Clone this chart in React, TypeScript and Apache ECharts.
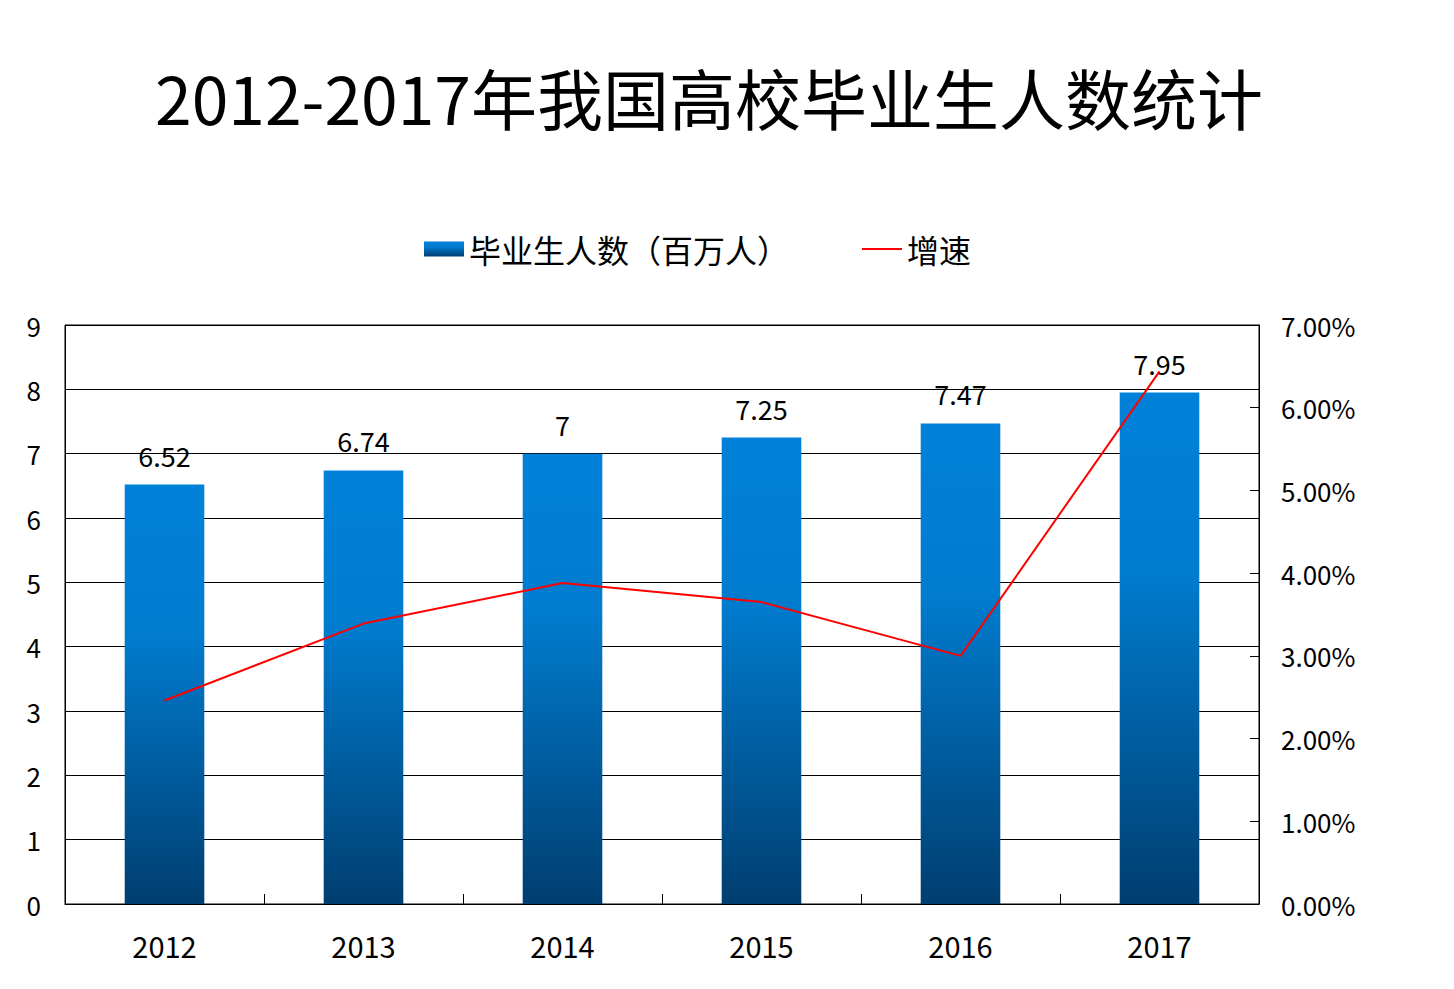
import React, { useEffect, useRef } from "react";
import * as echarts from "echarts";

const years = ["2012", "2013", "2014", "2015", "2016", "2017"];
const graduates = [6.52, 6.74, 7, 7.25, 7.47, 7.95];
const growth = [2.46, 3.39, 3.88, 3.65, 3.0, 6.44];

const FONT = '"Noto Sans CJK SC", "DejaVu Sans", sans-serif';

export default function App() {
  const ref = useRef<HTMLDivElement>(null);
  useEffect(() => {
    const chart = echarts.init(ref.current!, null, { renderer: "svg" });
    chart.setOption({
      animation: false,
      backgroundColor: "#fff",
      textStyle: { fontFamily: FONT, color: "#000" },
      title: {
        text: "2012-2017年我国高校毕业生人数统计",
        left: 150,
        top: 58,
        textStyle: { fontFamily: FONT, fontSize: 66, fontWeight: "normal", color: "#000" },
      },
      legend: {
        top: 228,
        left: 419,
        itemGap: 73,
        itemWidth: 40,
        itemHeight: 15,
        textStyle: { fontFamily: FONT, fontSize: 32, color: "#000" },
        data: [
          { name: "毕业生人数（百万人）", icon: "rect" },
          { name: "增速", icon: "path://M0,0 L40,0 L40,2 L0,2 Z" },
        ],
      },
      grid: {
        left: 65,
        right: 195,
        top: 325,
        bottom: 85,
        show: true,
        borderColor: "#000",
        borderWidth: 1,
      },
      xAxis: {
        type: "category",
        data: years,
        axisLine: { lineStyle: { color: "#000", width: 1 } },
        axisTick: { show: true, inside: true, length: 10, lineStyle: { color: "#000" } },
        axisLabel: { fontFamily: FONT, fontSize: 29, color: "#000", margin: 26 },
      },
      yAxis: [
        {
          type: "value",
          min: 0,
          max: 9,
          interval: 1,
          axisLine: { show: true, lineStyle: { color: "#000" } },
          axisTick: { show: false },
          splitLine: { show: true, lineStyle: { color: "#000", width: 1 } },
          axisLabel: { fontFamily: FONT, fontSize: 26, color: "#000", margin: 24 },
        },
        {
          type: "value",
          min: 0,
          max: 7,
          interval: 1,
          position: "right",
          axisLine: { show: true, lineStyle: { color: "#000" } },
          axisTick: { show: true, inside: true, length: 9, lineStyle: { color: "#000" } },
          splitLine: { show: false },
          axisLabel: {
            fontFamily: FONT,
            fontSize: 26,
            color: "#000",
            margin: 22,
            formatter: (v: number) => v.toFixed(2) + "%",
          },
        },
      ],
      series: [
        {
          name: "毕业生人数（百万人）",
          type: "bar",
          data: graduates,
          barWidth: "40%",
          itemStyle: {
            color: new echarts.graphic.LinearGradient(0, 0, 0, 1, [
              { offset: 0, color: "#0181d9" },
              { offset: 0.35, color: "#007ccf" },
              { offset: 1, color: "#003e70" },
            ]),
          },
          label: {
            show: true,
            position: "top",
            distance: 16,
            fontFamily: FONT,
            fontSize: 27,
            color: "#000",
          },
        },
        {
          name: "增速",
          type: "line",
          yAxisIndex: 1,
          data: growth,
          symbol: "none",
          lineStyle: { color: "#ff0000", width: 2 },
          itemStyle: { color: "#ff0000" },
        },
      ],
    });
    return () => chart.dispose();
  }, []);
  return <div ref={ref} style={{ width: 1454, height: 989, margin: -8 }} />;
}
